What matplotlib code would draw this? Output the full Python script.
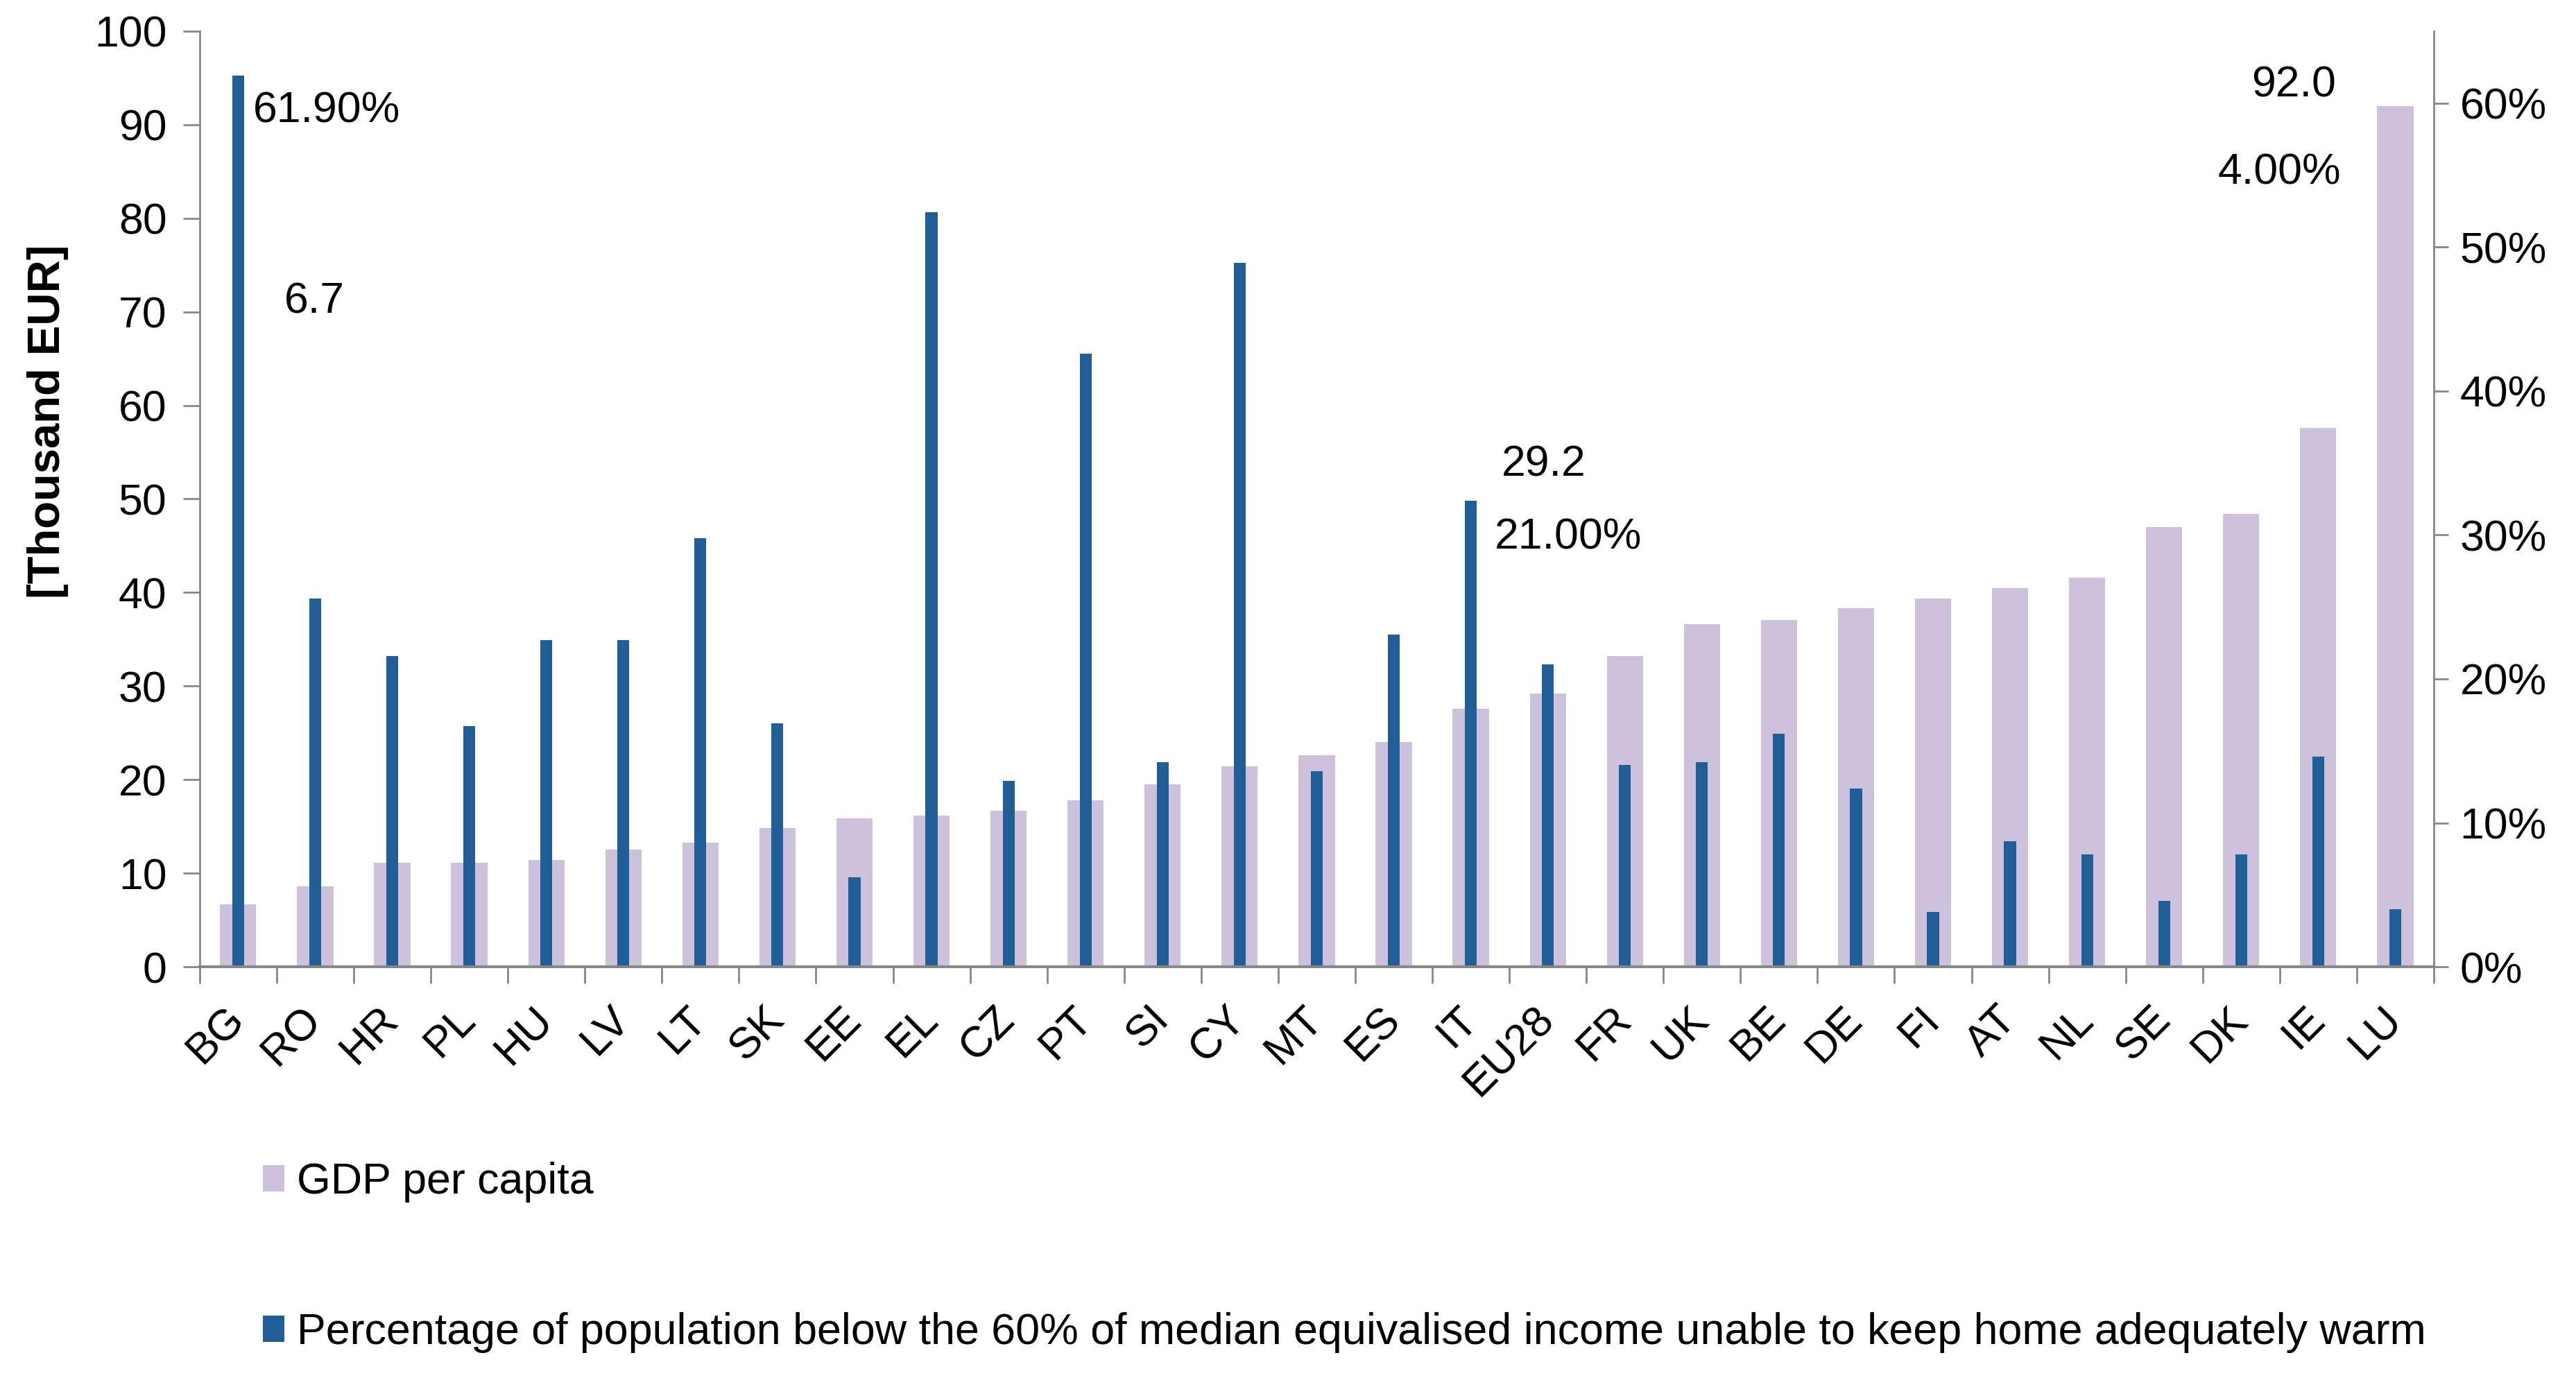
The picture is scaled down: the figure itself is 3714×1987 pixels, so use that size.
import matplotlib
matplotlib.use("Agg")
import matplotlib.pyplot as plt
import numpy as np

plt.rcParams['font.family'] = ['Liberation Sans', 'DejaVu Sans']

countries = ["BG", "RO", "HR", "PL", "HU", "LV", "LT", "SK", "EE", "EL", "CZ", "PT", "SI", "CY",
             "MT", "ES", "IT", "EU28", "FR", "UK", "BE", "DE", "FI", "AT", "NL", "SE", "DK", "IE", "LU"]
gdp_per_capita = [6.7, 8.6, 11.1, 11.1, 11.4, 12.5, 13.3, 14.8, 15.9, 16.2, 16.7, 17.8, 19.5, 21.4,
                  22.6, 24.0, 27.6, 29.2, 33.2, 36.6, 37.1, 38.3, 39.4, 40.5, 41.6, 47.0, 48.4, 57.6, 92.0]
pct_unable_warm = [61.9, 25.6, 21.6, 16.7, 22.7, 22.7, 29.8, 16.9, 6.2, 52.4, 12.9, 42.6, 14.2, 48.9,
                   13.6, 23.1, 32.4, 21.0, 14.0, 14.2, 16.2, 12.4, 3.8, 8.7, 7.8, 4.6, 7.8, 14.6, 4.0]
left_ticks = [0, 10, 20, 30, 40, 50, 60, 70, 80, 90, 100]
right_ticks = [0, 10, 20, 30, 40, 50, 60]
label_gdp = "GDP per capita"
label_pct = "Percentage of population below the 60% of median equivalised income unable to keep home adequately warm"

purple = "#CDC1DB"
blue = "#1F5E97"
axis_gray = "#878787"
FS = 22.5

fig = plt.figure(figsize=(18.57, 9.935), dpi=200)
ax = fig.add_axes([0.0775, 0.2984, 0.9448 - 0.0775, 0.9774 - 0.2984])
ax2 = ax.twinx()

x = np.arange(len(countries))
b1 = ax.bar(x, gdp_per_capita, width=0.47, color=purple, edgecolor='none', zorder=2)
b2 = ax2.bar(x, pct_unable_warm, width=0.155, color=blue, edgecolor='none', zorder=2)

ax.set_xlim(-0.5, len(countries) - 0.5)
ax.set_ylim(0, 100)
ax2.set_ylim(0, 65)

ax.set_yticks(left_ticks)
ax.set_yticklabels([str(t) for t in left_ticks], fontsize=FS)
ax2.set_yticks(right_ticks)
ax2.set_yticklabels([f"{t}%" for t in right_ticks], fontsize=FS)

# category boundaries as major ticks, labels at centers as minor
ax.set_xticks(np.arange(-0.5, len(countries), 1.0))
ax.set_xticklabels([])
ax.set_xticks(x, minor=True)
ax.set_xticklabels(countries, minor=True, fontsize=FS, rotation=45, ha='right', va='center',
                   rotation_mode='anchor')
ax.tick_params(axis='x', which='major', length=8.5, width=1.0, color=axis_gray, direction='out')
ax.tick_params(axis='x', which='minor', length=0, pad=24)
ax.tick_params(axis='y', length=8.5, width=1.0, color=axis_gray, direction='out', pad=8.5)
ax2.tick_params(axis='y', length=7.5, width=1.0, color=axis_gray, direction='out', pad=6)
ax2.tick_params(axis='x', which='both', length=0)

for a in (ax, ax2):
    a.spines['top'].set_visible(False)
    a.spines['left'].set_color(axis_gray)
    a.spines['right'].set_color(axis_gray)
    a.spines['bottom'].set_color(axis_gray)
    a.spines['left'].set_linewidth(1.0)
    a.spines['right'].set_linewidth(1.0)
    a.spines['bottom'].set_linewidth(1.4)
ax2.spines['left'].set_visible(False)
ax.spines['right'].set_visible(False)

ax.set_ylabel("[Thousand EUR]", fontsize=23.5, fontweight='bold')
ax.yaxis.set_label_coords(-0.0585, 0.583)

# data labels
ax.text(0.19, 91.5, f"{pct_unable_warm[0]:.2f}%", fontsize=FS, ha='left', va='center')
ax.text(0.60, 71.1, f"{gdp_per_capita[0]:.1f}", fontsize=FS, ha='left', va='center')
ax.text(16.40, 53.7, f"{gdp_per_capita[17]:.1f}", fontsize=FS, ha='left', va='center')
ax.text(16.31, 45.85, f"{pct_unable_warm[17]:.2f}%", fontsize=FS, ha='left', va='center')
ax.text(27.23, 94.2, f"{gdp_per_capita[28]:.1f}", fontsize=FS, ha='right', va='center')
ax.text(27.30, 84.9, f"{pct_unable_warm[28]:.2f}%", fontsize=FS, ha='right', va='center')

fig.legend([b1, b2], [label_gdp, label_pct], loc='upper left', bbox_to_anchor=(0.102, 0.157),
           frameon=False, fontsize=22.6, borderaxespad=0, borderpad=0, handlelength=0.5,
           handleheight=0.55, handletextpad=0.28, labelspacing=2.52)

fig.savefig("out.png", dpi=200)
